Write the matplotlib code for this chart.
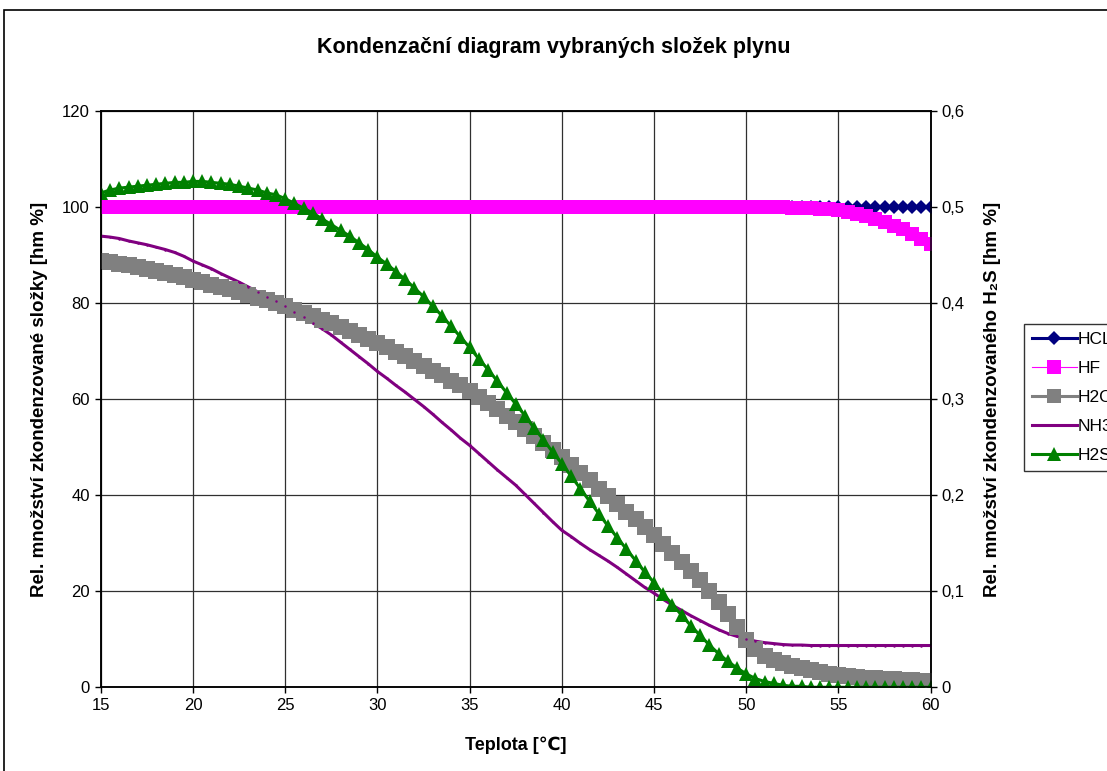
import matplotlib
matplotlib.use('Agg')
import matplotlib.pyplot as plt
from matplotlib.patches import Rectangle
from matplotlib.lines import Line2D
from matplotlib.ticker import FuncFormatter

plt.rcParams['font.family'] = ['Liberation Sans', 'DejaVu Sans']

# Teplota [°C], krok 0,5
teplota = [
    15.0, 15.5, 16.0, 16.5, 17.0, 17.5, 18.0, 18.5, 19.0, 19.5,
    20.0, 20.5, 21.0, 21.5, 22.0, 22.5, 23.0, 23.5, 24.0, 24.5,
    25.0, 25.5, 26.0, 26.5, 27.0, 27.5, 28.0, 28.5, 29.0, 29.5,
    30.0, 30.5, 31.0, 31.5, 32.0, 32.5, 33.0, 33.5, 34.0, 34.5,
    35.0, 35.5, 36.0, 36.5, 37.0, 37.5, 38.0, 38.5, 39.0, 39.5,
    40.0, 40.5, 41.0, 41.5, 42.0, 42.5, 43.0, 43.5, 44.0, 44.5,
    45.0, 45.5, 46.0, 46.5, 47.0, 47.5, 48.0, 48.5, 49.0, 49.5,
    50.0, 50.5, 51.0, 51.5, 52.0, 52.5, 53.0, 53.5, 54.0, 54.5,
    55.0, 55.5, 56.0, 56.5, 57.0, 57.5, 58.0, 58.5, 59.0, 59.5,
    60.0,
]

# HCL kondenzuje celý v celém rozsahu
hcl = [100.0] * 91

hf = [100.0] * 74 + [
    99.98, 99.95, 99.9, 99.8, 99.7, 99.55,
    99.4, 99.1, 98.7, 98.2, 97.6, 96.9, 96.2, 95.4, 94.5, 93.5,
    92.3,
]

h2o = [
    88.9, 88.6, 88.2, 87.9, 87.5, 87.1, 86.7, 86.3, 85.8, 85.4,
    84.9, 84.4, 83.9, 83.4, 82.9, 82.4, 81.8, 81.2, 80.6, 80.0,
    79.4, 78.7, 78.0, 77.3, 76.6, 75.8, 75.0, 74.2, 73.4, 72.6,
    71.7, 70.8, 69.9, 69.0, 68.0, 67.0, 66.0, 65.0, 63.9, 62.9,
    61.8, 60.5, 59.2, 57.9, 56.6, 55.3, 53.9, 52.4, 50.9, 49.5,
    48.0, 46.4, 44.7, 43.1, 41.4, 39.8, 38.2, 36.6, 35.0, 33.4,
    31.8, 29.9, 28.0, 26.1, 24.2, 22.3, 20.1, 17.8, 15.3, 12.6,
    9.9, 7.9, 6.5, 5.6, 5.0, 4.5, 4.0, 3.5, 3.1, 2.8,
    2.5, 2.3, 2.1, 2.0, 1.9, 1.8, 1.7, 1.6, 1.5, 1.4,
    1.3,
]

nh3 = [
    94.0, 93.8, 93.5, 93.0, 92.6, 92.2, 91.7, 91.2, 90.6, 89.8,
    88.8, 88.0, 87.2, 86.2, 85.3, 84.4, 83.4, 82.4, 81.4, 80.4,
    79.4, 78.2, 77.1, 75.9, 74.7, 73.4, 71.9, 70.4, 68.9, 67.4,
    65.8, 64.4, 62.9, 61.5, 60.0, 58.5, 56.9, 55.2, 53.6, 51.9,
    50.4, 48.7, 47.0, 45.3, 43.7, 42.1, 40.2, 38.3, 36.4, 34.5,
    32.7, 31.4, 30.0, 28.7, 27.5, 26.3, 25.0, 23.6, 22.2, 20.8,
    19.6, 18.3, 17.1, 16.0, 14.9, 13.9, 12.9, 12.0, 11.2, 10.6,
    10.1, 9.6, 9.3, 9.1, 8.9, 8.8, 8.8, 8.7, 8.7, 8.7,
    8.7, 8.7, 8.7, 8.7, 8.7, 8.7, 8.7, 8.7, 8.7, 8.7,
    8.7,
]

# H2S na vedlejší ose
h2s = [
    0.515, 0.518, 0.520, 0.521, 0.522, 0.523, 0.524, 0.525, 0.526, 0.526,
    0.527, 0.527, 0.526, 0.525, 0.524, 0.522, 0.520, 0.518, 0.515, 0.513,
    0.509, 0.504, 0.499, 0.494, 0.488, 0.482, 0.476, 0.470, 0.463, 0.456,
    0.448, 0.441, 0.433, 0.425, 0.416, 0.407, 0.397, 0.387, 0.376, 0.365,
    0.354, 0.342, 0.331, 0.319, 0.307, 0.295, 0.283, 0.270, 0.258, 0.245,
    0.233, 0.220, 0.207, 0.194, 0.181, 0.168, 0.156, 0.144, 0.132, 0.120,
    0.109, 0.097, 0.086, 0.075, 0.064, 0.054, 0.044, 0.035, 0.027, 0.020,
    0.014, 0.009, 0.006, 0.004, 0.002, 0.001, 0.001, 0.0, 0.0, 0.0,
    0.0, 0.0, 0.0, 0.0, 0.0, 0.0, 0.0, 0.0, 0.0, 0.0,
    0.0,
]

# (label, data, color, line width, marker, marker size)
series = [
    ('HCL', hcl, '#000080', 2.2, 'D', 7.5),
    ('HF', hf, '#FF00FF', 0.8, 's', 10),
    ('H2O', h2o, '#808080', 2.2, 's', 11.5),
    ('NH3', nh3, '#800080', 2.2, 'o', 1.8),
]

fig = plt.figure(figsize=(11.07, 7.71), dpi=100)
ax = fig.add_axes([0.0911, 0.1086, 0.7496, 0.7470])

# lines first, markers on top of all lines
handles = []
for i, (name, y, c, lw, m, ms) in enumerate(series):
    ax.plot(teplota, y, color=c, lw=lw, zorder=2 + i * 0.1)
    ax.plot(teplota, y, ls='none', marker=m, ms=ms, color=c, mec=c,
            mew=0, zorder=3 + i * 0.1)
    handles.append(Line2D([], [], color=c, lw=lw, marker=m,
                          ms=min(ms, 9.5), mec=c, mew=0))

ax2 = ax.twinx()
ax2.plot(teplota, h2s, color='#008000', lw=2.2, marker='^', ms=9.5,
         mec='#008000', mew=0)
handles.append(Line2D([], [], color='#008000', lw=2.2, marker='^', ms=9.5,
                      mec='#008000', mew=0))

ax.set_xlim(15, 60)
ax.set_ylim(0, 120)
ax2.set_ylim(0, 0.6)
ax.set_xticks(range(15, 61, 5))
ax.set_yticks(range(0, 121, 20))
ax2.set_yticks([0, 0.1, 0.2, 0.3, 0.4, 0.5, 0.6])
ax2.yaxis.set_major_formatter(
    FuncFormatter(lambda v, p: '0' if v == 0 else f'{v:.1f}'.replace('.', ',')))

ax.grid(True, color='#303030', lw=0.9)
ax.set_axisbelow(True)
for a in (ax, ax2):
    a.tick_params(direction='out', length=4, width=1, labelsize=12, pad=4)
    for s in a.spines.values():
        s.set_linewidth(1.1)
        s.set_color('black')

ax.set_xlabel('Teplota [℃]', fontsize=13, fontweight='bold', labelpad=17)
ax.set_ylabel('Rel. množství zkondenzované složky [hm %]', fontsize=13.5,
              fontweight='bold', labelpad=10)
ax2.set_ylabel('Rel. množství zkondenzovaného H₂S [hm %]', fontsize=13.5,
               fontweight='bold', labelpad=14)

fig.text(0.5, 1 - 48 / 771, 'Kondenzační diagram vybraných složek plynu',
         ha='center', va='center', fontsize=15.5, fontweight='bold')

leg = fig.legend(handles, ['HCL', 'HF', 'H2O', 'NH3', 'H2S'],
                 loc='upper left', bbox_to_anchor=(1024 / 1107, 1 - 324 / 771),
                 fontsize=12.5, frameon=True, fancybox=False,
                 handlelength=2.6, handletextpad=0.05, labelspacing=0.8,
                 borderpad=0.45, borderaxespad=0)
leg.get_frame().set_edgecolor('black')
leg.get_frame().set_linewidth(1.0)

# chart border
fig.patches.append(Rectangle((4 / 1107, -0.1), 1.2, 1.1 - 10 / 771,
                             transform=fig.transFigure, fill=False,
                             edgecolor='black', lw=1.2, clip_on=False))

fig.savefig('out.png', dpi=100)
